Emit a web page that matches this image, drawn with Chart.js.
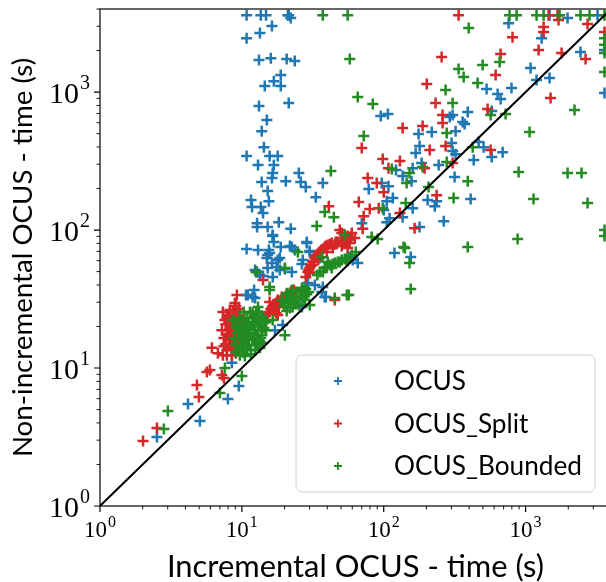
<!DOCTYPE html>
<html>
<head>
<meta charset="utf-8">
<title>Incremental vs non-incremental OCUS</title>
<script src="https://cdn.jsdelivr.net/npm/chart.js"></script>
<style>
  html, body { margin: 0; padding: 0; background: #fff; overflow: hidden; }
  #wrap { width: 620px; height: 582px; }
</style>
</head>
<body>
<div id="wrap"><canvas id="chart" width="620" height="582"></canvas></div>
<script>
// [incremental time, non-incremental time] in seconds
const ocus = [
  [10.8,3600],[13.6,3600],[14.8,3600],[21.1,3600],[21.4,3600],[22.1,3440],
  [16.3,3010],[13.4,2680],[10.8,2460],
  [13.2,1710],[16,1760],[20.7,1735],[23.6,1680],
  [18.8,1330],[16.8,1200],[14.5,1105],[18.8,1105],
  [13.2,792],[21.4,832],[15,627],[13.8,521],[14.3,399],
  [10.8,344],[15.7,344],[17.9,344],
  [13,296],[16.8,296],[16.5,259],[16.3,238],[13.8,223],[20.4,226],[25.2,259],[26,223],[28.2,205],[37.2,219],
  [15.2,192],[33.2,173],[11.6,165],[15.5,162],[11.8,147],[13.6,147],[14.1,133],[12.8,112],[18.2,114],
  [15.2,105],[12.8,105],[22.1,102],[16.5,90.5],[16.5,92],[16.8,81.8],[28.7,81.8],[28.7,80.5],
  [10.8,72.8],[13,71.6],[15.5,71.6],[18.8,75.3],[21.8,76.6],[22.5,75.3],[23.6,71.6],[30.1,70.5],[30.1,69.3],
  [15.2,65.9],[18.5,62.7],[15,62.7],[15.7,68.1],[17.9,60.6],[16.3,57.7],[15.2,53],[18.5,51.3],[22.5,49.6],
  [12.4,51.3],[13.4,47.2],[26.9,60.6],[17.6,53.9],[14.1,46.4],[16.5,45.6],[20.1,52.1],[26.5,56.7],[35.4,62.7],[12.8,49.6],
  [10.7,33.8],[12.2,36.7],[11.9,32.7],[11,33.8],[12.4,32.2],[29.2,41.3],[37.2,38.6],[39,32.7],[32.7,39.9],
  [26.5,27.7],[17.1,18.8],[19.4,20.5],[36.6,35.6],[38.4,32.7],
  [7.97,22.3],[8.64,21.2],[8.5,10.9],[9.52,7.41],[4.17,5.48],[7.97,5.96],[5.06,4.13],[2.52,3.16],
  [1977,3440],[1476,3600],[3215,3600],[759,3160],[1297,2460],[2439,1950],[1084,1493],[1195,1222],[1476,1263],
  [531,1052],[796,1069],[635,968],[667,890],[95.3,670],[107,693],[292,659],[306,681],[577,728],[391,716],
  [360,607],[372,586],[218,513],[176,497],[321,521],[179,406],[168,361],[301,427],[306,374],[321,355],
  [467,434],[506,399],[577,338],[689,367],[431,322],[185,306],[244,296],[316,242],[122,272],[160,281],
  [136,246],[157,226],[96.8,219],[78.4,198],[108,208],[236,162],[204,165],[229,149],[410,168],[105,162],
  [116,171],[100,140],[110,122],[105,114],[136,124],[160,144],[265,116],[179,105],[70,112],[119,68.1],
  [155,63.7],[3600,2015],[3600,984],
  [57.6,63.7],[60.5,60.6],[65.6,57.7],[55.7,60]
];

const ocusSplit = [
  [337,3600],[1452,3600],[1680,3600],[1707,3325],[1340,2960],[1340,2720],[2734,3110],[809,2500],[1235,2015],
  [1794,1920],[2647,1735],[667,1885],[256,1795],[615,1328],[201,1143],[232,832],[1500,905],[3600,2720],
  [540,753],[260,681],[260,596],[136,548],[188,567],[70,393],[98.4,327],[130,316],[211,380],[273,406],
  [567,380],[194,281],[306,306],[108,281],[77.1,238],[89.3,219],[100,188],[236,179],[66.7,160],[79.7,142],
  [92.2,144],[72.3,126],[130,133],[165,103],[71.1,102],[41,149],[49,100],
  [50.6,95.1],[53.1,87.5],[55.7,90.5],[51.4,80.5],[57.6,85],
  [29.2,49.6],[31.1,55.7],[32.7,62.7],[35.4,69.3],[38.4,75.3],[43,80.5],[47.4,81.8],[53.1,81.8],[55.7,74.1],
  [59.5,95.1],[30.1,53],[31.6,58.6],[33.7,65.9],[36.6,71.6],[40.3,77.9],[45.2,79],[50.6,76.6],[30.1,48.8],
  [43.7,74.1],[39.7,69.3],[34.5,60.6],[62.5,87.5],[57.6,80.5],
  [29.6,51.3],[30.6,54.8],[32.1,59.6],[33.2,64.8],[34.8,68.1],[37.2,72.8],[39,76.6],[41.7,79],[45.9,81.8],
  [49.8,83.2],[54.9,84.6],[58.5,88.9],[28.2,45.6],
  [15.7,30.1],[15.7,25.5],[17.9,24.2],[16.3,27.2],[17.1,28.6],[17.9,31.1],[19.1,32.7],[20.1,31.1],[21.1,33.3],
  [21.8,34.9],[18.5,29.6],[16.8,26.3],[19.4,32.2],[14.1,43.4],[45.2,31.1],[17.4,25],[15.2,24.6],
  [16.5,28.1],[17.4,29.6],[18.8,31.1],[20.4,33.2],[22.1,35.6],[23.3,36.7],[16,26.8],[18.2,27.7],[19.8,30.1],
  [9.22,33.8],[8.93,29.6],[7.35,25.5],[8.23,26.3],[7.59,22.3],[6.15,14],[7.35,12.4],[5.67,9.35],[5.95,9.68],
  [7.23,8.9],[7.47,8.47],[4.82,7.53],[4.98,6.17],[2.52,3.67],[2.01,2.96],[6.78,12.8],
  [7.84,23],[8.1,21.5],[8.37,20.2],[7.97,18.8],[8.5,17.9],[8.78,19.5],[9.07,21.5],[9.37,23],[8.23,17],
  [8.64,16],[9.07,17.3],[9.52,18.8],[9.84,20.5],[8.93,14.9],[8.37,14.2],[7.71,14.9],[9.37,15.6],[9.68,16.5],
  [10.2,17.9],[8.1,16],[7.47,16.5],[8.78,22.3],[9.68,24.2],[10,22.3],[9.22,13.5],[7.84,13.5],[10.3,19.5],[8.64,25.5],
  [8.1,24.2],[8.37,22.6],[8.93,23.8],[7.71,20.8],[8.23,19.5],[8.64,20.1],[9.22,20.8],[9.52,21.9],[7.84,17.6],
  [8.37,16.5],[8.93,16.5],[9.37,17.3],[9.84,15.6],[8.1,14.9],[8.64,13.5],[9.07,12.8],[9.68,14.2],[7.47,14.4],
  [10,14.2],[10.3,15.2],[7.84,12.4],[8.5,12.4],[7.23,18.8],[9.52,26.8],[9.07,28.1],[10.5,16.5],[10.7,17.6]
];

const ocusBounded = [
  [37.2,3600],[55.7,3600],[771,3600],[864,3600],[1195,3600],[1340,3600],[1735,3600],[2439,3600],[2824,3600],
  [3600,3600],[397,2910],[57.6,1735],[656,1650],[498,1570],[337,1469],[366,1285],[459,1163],[273,1034],
  [65.6,920],[83.7,819],[306,832],[2213,741],[567,681],[723,693],[278,505],[72.3,480],[1067,513],[424,399],
  [188,286],[278,311],[391,226],[893,263],[1977,259],[2479,259],[114,277],[152,259],[145,219],[207,205],
  [311,171],[1138,168],[2734,157],[143,157],[82.3,88.9],[90.7,86.1],[879,86.1],[391,75.3],[141,74.1],
  [3600,100],[3600,90.5],[3600,2460],[3600,2200],[3600,1920],[3600,1396],[42.4,268],[38.4,135],[44.5,124],
  [33.7,107],[53.1,92],[24.8,69.3],[138,75.3],[152,57.7],[56.7,33.8],[155,37.4],[98.4,144],
  [36.6,63.7],[40.3,58.6],[45.2,57.7],[50.6,60.6],[55.7,62.7],[35.4,49.6],[39.7,53.9],[37.2,49.6],[41.7,55.7],
  [47.4,58.6],[54.9,60.6],[43,53],[59.5,65.9],[63.5,69.3],
  [38.4,53],[43.7,56.7],[49,58.6],[53.1,61.7],[34,47.2],
  [12.6,49.6],[15.7,36.7],[20.1,53],[15.7,38.6],[30.1,28.6],[45.2,32.2],[54.9,33.8],[16.5,22.3],[20.1,17.3],
  [13.8,17.3],[13,27.7],
  [20.7,34.9],[22.5,36.7],[24.2,35.6],[25.6,33.3],[27.3,36.7],[21.8,32.2],[23.6,30.1],[20.1,29.6],[25.2,28.6],
  [27.8,31.1],[19.1,31.1],[22.8,27.7],[21.4,33.8],[26.5,38],[28.7,34.2],
  [19.8,28.1],[21.1,30.1],[22.5,31.6],[24.4,33.2],[26,35.6],[28.2,37.4],[21.8,27.2],[24,29.1],[26.9,32.2],
  [29.6,35.6],[20.7,25.9],
  [8.64,22.3],[9.07,20.2],[9.37,18.2],[9.68,16.5],[10,14.9],[10.3,14],[10.7,16],[11,17.6],[11.4,19.5],
  [11.8,21.5],[12.2,23.8],[12.6,25.5],[13,23],[13.4,20.5],[13.8,18.8],[10.5,20.5],[10.8,23],[11.2,14.7],
  [12.1,16],[12.8,17.3],[9.07,14.7],[9.52,13.5],[10.2,13],[11.6,13.5],[12.4,14.7],[9.84,18.8],[10.3,17],
  [13,20.5],[13.4,14],[14.1,15.2],[8.78,16.5],[11.4,25.5],[14.5,22.3],
  [9.68,23],[10.2,21.5],[10.8,20.1],[11.4,17.9],[11.8,16.5],[12.4,18.8],[13,17.3],[13.6,16.5],[14.3,19.5],
  [14.8,21.5],[13.8,23.8],[13.2,25.5],[11.9,25],[11.2,21.5],[10.7,18.8],[10.2,16],[10.8,14.7],[11.6,12.6],
  [12.4,13.5],[10.5,12.2],[9.68,12.4],[12.8,14.7],[13.4,15.6],[14.8,18.8],[9.37,19.5],[9.84,14.4],[11.2,16],
  [12.2,20.1],[12.8,22.3],[14.1,21.2],[9.07,13],[10.3,25.5],
  [7.59,10],[10,8.75],[7,6.59],[3.01,4.88],[2.82,3.61]
];

const seriesNames = ['OCUS', 'OCUS_Split', 'OCUS_Bounded'];
const seriesColors = ['#1f77b4', '#d62728', '#228b22'];
const majorTicks = [1, 10, 100, 1000];
const axisRange = [1, 4000];
const diagonal = [1, 4000];

const toPoints = arr => arr.map(p => ({ x: p[0], y: p[1] }));

// font size that makes a text span a given width (matches the original's text widths)
function fitSize(text, family, width) {
  const c = document.createElement('canvas').getContext('2d');
  c.font = '100px ' + family;
  return Math.round(100 * width / c.measureText(text).width * 10) / 10;
}
const SANS = 'Lato, "DejaVu Sans", sans-serif';
const SERIF = '"Liberation Serif", "DejaVu Serif", serif';
const xTitleSize = fitSize('Incremental OCUS - time (s)', SANS, 377);
const yTitleSize = fitSize('Non-incremental OCUS - time (s)', SANS, 400);
const legendSize = fitSize('OCUS_Bounded', SANS, 188);

function crossAt(ctx, x, y, r) {
  ctx.beginPath();
  ctx.moveTo(x - r, y); ctx.lineTo(x + r, y);
  ctx.moveTo(x, y - r); ctx.lineTo(x, y + r);
  ctx.stroke();
}

// draws "10" with a raised exponent; anchor 'center' or 'right'
function powerLabel(ctx, e, ax, base, bigPx, smallPx, rise, anchor) {
  ctx.font = bigPx + 'px ' + SERIF; const wb = ctx.measureText('10').width;
  ctx.font = smallPx + 'px ' + SERIF; const we = ctx.measureText(e).width;
  const total = wb + 1 + we;
  const sx = anchor === 'center' ? ax - total / 2 : ax - total;
  ctx.font = bigPx + 'px ' + SERIF; ctx.fillText('10', sx, base);
  ctx.font = smallPx + 'px ' + SERIF; ctx.fillText(e, sx + wb + 1, base - rise);
}

// frame, ticks, power-of-ten labels and the legend, drawn the matplotlib way
const decorations = {
  id: 'decorations',
  afterDraw(chart) {
    const { ctx, chartArea: a, scales: { x, y } } = chart;
    ctx.save();
    ctx.strokeStyle = '#000';
    ctx.lineWidth = 1.2;
    ctx.strokeRect(a.left, a.top, a.right - a.left, a.bottom - a.top);

    // tick marks, outward
    for (let d = 0; d < 4; d++) {
      for (let m = 1; m < 10; m++) {
        const v = m * Math.pow(10, d);
        if (v > axisRange[1]) continue;
        const len = m === 1 ? 6 : 3.5;
        ctx.lineWidth = m === 1 ? 1.2 : 0.9;
        const px = x.getPixelForValue(v);
        const py = y.getPixelForValue(v);
        ctx.beginPath();
        ctx.moveTo(px, a.bottom); ctx.lineTo(px, a.bottom + len);
        ctx.moveTo(a.left, py); ctx.lineTo(a.left - len, py);
        ctx.stroke();
      }
    }

    // labels 10^n (the y labels are set larger than the x ones in the original)
    ctx.fillStyle = '#000';
    ctx.textAlign = 'left';
    ctx.textBaseline = 'alphabetic';
    majorTicks.forEach(v => {
      const e = String(Math.round(Math.log10(v)));
      powerLabel(ctx, e, x.getPixelForValue(v), a.bottom + 31, 23, 16, 10, 'center');
      powerLabel(ctx, e, a.left - 10, y.getPixelForValue(v) + 11, 30, 20, 14, 'right');
    });

    // legend
    const lx = 296, ly = 355, lw = 299, lh = 137;
    ctx.beginPath();
    ctx.roundRect(lx, ly, lw, lh, 6);
    ctx.fillStyle = 'rgba(255,255,255,0.8)';
    ctx.fill();
    ctx.strokeStyle = '#d0d0d0';
    ctx.lineWidth = 1;
    ctx.stroke();
    ctx.font = legendSize + 'px ' + SANS;
    ctx.textBaseline = 'middle';
    chart.data.datasets.slice(0, 3).forEach((ds, i) => {
      const ry = ly + 26 + i * 42.5;
      ctx.strokeStyle = ds.borderColor;
      ctx.lineWidth = 1.8;
      crossAt(ctx, lx + 42, ry, 4);
      ctx.fillStyle = '#000';
      ctx.fillText(ds.label, lx + 98, ry + 1);
    });
    ctx.restore();
  }
};

const pointStyle = (color, order) => ({
  pointStyle: 'cross',
  pointRadius: 5.5,
  pointHoverRadius: 5.5,
  borderWidth: 2.5,
  borderColor: color,
  backgroundColor: color,
  order
});

new Chart(document.getElementById('chart'), {
  type: 'scatter',
  data: {
    datasets: [
      { label: seriesNames[0], data: toPoints(ocus), ...pointStyle(seriesColors[0], 3) },
      { label: seriesNames[1], data: toPoints(ocusSplit), ...pointStyle(seriesColors[1], 2) },
      { label: seriesNames[2], data: toPoints(ocusBounded), ...pointStyle(seriesColors[2], 1) },
      {
        label: 'y = x',
        data: diagonal.map(v => ({ x: v, y: v })),
        showLine: true,
        pointRadius: 0,
        borderColor: '#000',
        borderWidth: 2,
        order: 0
      }
    ]
  },
  options: {
    responsive: false,
    animation: false,
    layout: { padding: { top: 9, right: 9, left: 0, bottom: 0 } },
    plugins: { legend: { display: false }, tooltip: { enabled: false } },
    scales: {
      x: {
        type: 'logarithmic',
        min: axisRange[0],
        max: axisRange[1],
        grid: { display: false },
        border: { display: false },
        ticks: { display: false },
        title: {
          display: true,
          text: 'Incremental OCUS - time (s)',
          color: '#000',
          font: { family: SANS, size: xTitleSize },
          padding: { top: 0, bottom: -4 }
        },
        afterFit: s => { s.height = 76; }
      },
      y: {
        type: 'logarithmic',
        min: axisRange[0],
        max: axisRange[1],
        grid: { display: false },
        border: { display: false },
        ticks: { display: false },
        title: {
          display: true,
          text: 'Non-incremental OCUS - time (s)',
          color: '#000',
          font: { family: SANS, size: yTitleSize },
          padding: { top: 6, bottom: 0 }
        },
        afterFit: s => { s.width = 100; }
      }
    }
  },
  plugins: [decorations]
});
</script>
</body>
</html>
